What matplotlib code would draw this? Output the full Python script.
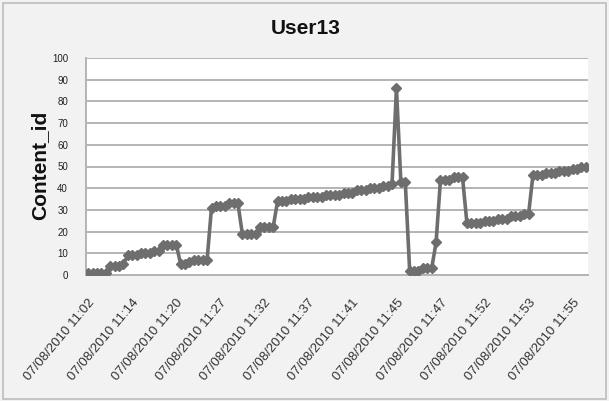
import matplotlib
matplotlib.use("Agg")
import matplotlib.pyplot as plt
from matplotlib.patches import Rectangle
from matplotlib.transforms import ScaledTranslation

title = "User13"
y_label = "Content_id"

content_id = [
    1, 1, 1, 1, 1,
    4, 4, 4, 5,
    9, 9, 9, 10, 10, 10, 11, 11,
    14, 14, 14, 14,
    5, 5, 6, 7, 7, 7, 7,
    31, 32, 32, 32, 33, 33, 33,
    19, 19, 19, 19,
    22, 22, 22, 22,
    34, 34, 34, 35, 35, 35, 35, 36, 36, 36, 36, 37, 37, 37, 37,
    38, 38, 38, 39, 39, 39, 40, 40, 40, 41, 41, 42,
    86,
    43, 43,
    2, 2, 2, 3, 3, 3,
    15,
    44, 44, 44, 45, 45, 45,
    24, 24, 24, 24, 25, 25, 25, 26, 26, 26, 27, 27, 27, 28, 28,
    46, 46, 46, 47, 47, 47, 48, 48, 48, 49, 49, 50, 50,
]

tick_index = [0, 10, 20, 30, 40, 50, 60, 70, 80, 90, 100, 110]
tick_labels = [
    "07/08/2010 11:02", "07/08/2010 11:14", "07/08/2010 11:20", "07/08/2010 11:27",
    "07/08/2010 11:32", "07/08/2010 11:37", "07/08/2010 11:41", "07/08/2010 11:45",
    "07/08/2010 11:47", "07/08/2010 11:52", "07/08/2010 11:53", "07/08/2010 11:55",
]
y_ticks = list(range(0, 101, 10))

plt.rcParams['font.family'] = ['Liberation Sans', 'DejaVu Sans']

fig = plt.figure(figsize=(6.09, 4.01), dpi=100, facecolor='#f2f2f2')
ax = fig.add_axes([86/609, 1 - 275/401, (588 - 86)/609, (275 - 58)/401])
ax.set_facecolor('white')

x = list(range(len(content_id)))
ax.plot(x, content_id, color='#6e6e6e', lw=2.6, marker='D', ms=5.2,
        mfc='#6e6e6e', mec='#6e6e6e', zorder=3)

ax.set_xlim(-0.5, len(content_id) - 0.5)
ax.set_ylim(0, 100)
ax.set_yticks(y_ticks)
ax.set_yticklabels([str(v) for v in y_ticks], fontsize=7, color='#222222')
ax.yaxis.grid(True, color='#b4b4b4', lw=1.4)
ax.set_axisbelow(True)
ax.tick_params(axis='y', length=0, pad=13)
ax.tick_params(axis='x', length=0, pad=0)

ax.set_xticks(tick_index)
ax.set_xticklabels(tick_labels, rotation=50, ha='right', rotation_mode='anchor',
                   fontsize=9.5, color='#333333')
offset = ScaledTranslation(0, -22/100, fig.dpi_scale_trans)
for lbl in ax.get_xticklabels():
    lbl.set_transform(lbl.get_transform() + offset)

for side in ['top', 'right']:
    ax.spines[side].set_visible(False)
ax.spines['left'].set_color('#b4b4b4')
ax.spines['left'].set_linewidth(1.4)
ax.spines['bottom'].set_color('#b4b4b4')
ax.spines['bottom'].set_linewidth(1.4)

fig.text(306/609, 1 - 29/401, title, ha='center', va='center', fontsize=15,
         fontweight='bold', color='#111111')
fig.text(40/609, 1 - 165/401, y_label, ha='center', va='center', rotation=90,
         fontsize=15, fontweight='bold', color='#111111')

fig.patches.append(Rectangle((3/609, 2/401), 603/609, 396/401, transform=fig.transFigure,
                             fill=False, edgecolor='#bdbdbd', lw=1.2))

fig.savefig('out.png', dpi=100, facecolor=fig.get_facecolor())
